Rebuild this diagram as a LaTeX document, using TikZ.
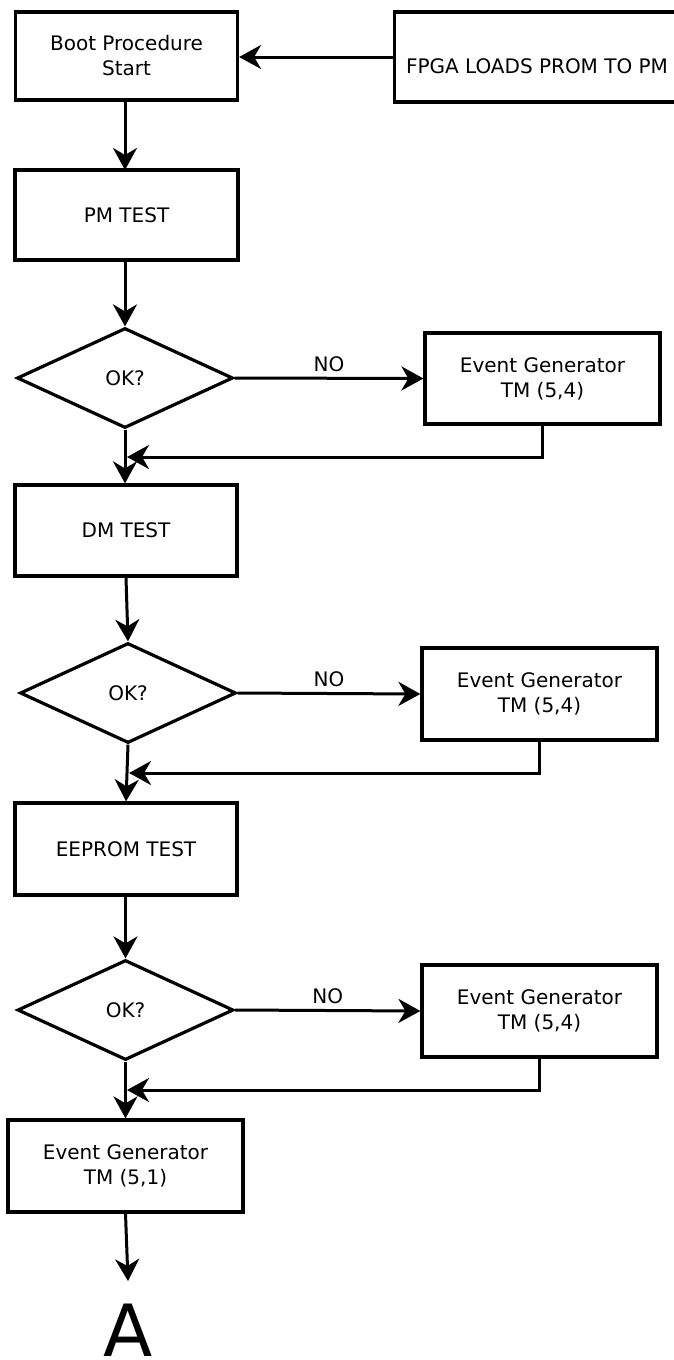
\documentclass[tikz,border=0pt]{standalone}
\usepackage{fontspec}
\setmainfont{DejaVu Sans}
\usetikzlibrary{arrows.meta,shapes.geometric}
\begin{document}
\begin{tikzpicture}[x=1pt,y=-1pt,
  box/.style={draw,line width=3.2pt,rectangle,inner sep=0pt,align=center,
    font=\fontsize{20}{25}\selectfont},
  decision/.style={draw,line width=3.2pt,diamond,inner sep=0pt,
    minimum width=216pt,minimum height=100pt,font=\fontsize{20}{25}\selectfont},
  flow/.style={line width=3pt,-{Stealth[length=22pt,width=24pt,inset=7pt]}},
  lbl/.style={font=\fontsize{20}{25}\selectfont}]
\useasboundingbox (0,0) rectangle (673,1360);

% start of the boot sequence
\node[box,minimum width=222pt,minimum height=88pt] (boot) at (126.5,56) {Boot Procedure\\Start};
\node[box,minimum width=284pt,minimum height=90pt,anchor=west] (fpga) at (393,57) {};
\node[lbl] (fpgatxt) at (537,66) {FPGA LOADS PROM TO PM};
\draw[flow] (fpga.west) -- (boot.east |- fpga.west);

% program memory test
\node[box,minimum width=223pt,minimum height=90pt] (pm) at (126.5,215) {PM TEST};
\node[decision] (d1) at (125,378) {OK?};
\node[box,minimum width=235pt,minimum height=91pt] (eg1) at (542.5,378.5) {Event Generator\\TM (5,4)};
\draw[flow] (125,100) -- (125,170);
\draw[flow] (pm.south -| d1.north) -- (d1.north);
\draw[flow] (d1.east) -- node[lbl,above=2pt] (no1) {NO} (eg1.west);
\coordinate (j1) at (127,457);
\draw[flow] (eg1.south) |- (j1);

% data memory test
\node[box,minimum width=222pt,minimum height=91pt] (dm) at (126,530.5) {DM TEST};
\draw[flow] (d1.south) -- (dm.north -| d1.south);
\node[decision] (d2) at (128,693) {OK?};
\node[box,minimum width=235pt,minimum height=92pt] (eg2) at (539.5,694) {Event Generator\\TM (5,4)};
\draw[flow] (dm.south) -- (d2.north);
\draw[flow] (d2.east) -- node[lbl,above=2pt] (no2) {NO} (eg2.west);
\coordinate (j2) at (129,773);
\draw[flow] (eg2.south) |- (j2);

% eeprom test
\node[box,minimum width=222pt,minimum height=92pt] (ee) at (126,849) {EEPROM TEST};
\draw[flow] (d2.south) -- (ee.north);
\node[decision] (d3) at (125.5,1010) {OK?};
\node[box,minimum width=235pt,minimum height=92pt] (eg3) at (539.5,1011) {Event Generator\\TM (5,4)};
\draw[flow] (ee.south -| d3.north) -- (d3.north);
\draw[flow] (d3.east) -- node[lbl,above=2pt] (no3) {NO} (eg3.west);
\coordinate (j3) at (127,1090);
\draw[flow] (eg3.south) |- (j3);

% final report
\node[box,minimum width=235pt,minimum height=92pt] (eg4) at (125.5,1166) {Event Generator\\TM (5,1)};
\draw[flow] (d3.south) -- (eg4.north -| d3.south);
\node[font=\fontsize{72}{72}\selectfont,inner sep=0pt,anchor=base] (a) at (128,1356) {A};
\coordinate (aend) at (128,1281);
\draw[flow] (eg4.south) -- (aend);
\end{tikzpicture}
\end{document}
